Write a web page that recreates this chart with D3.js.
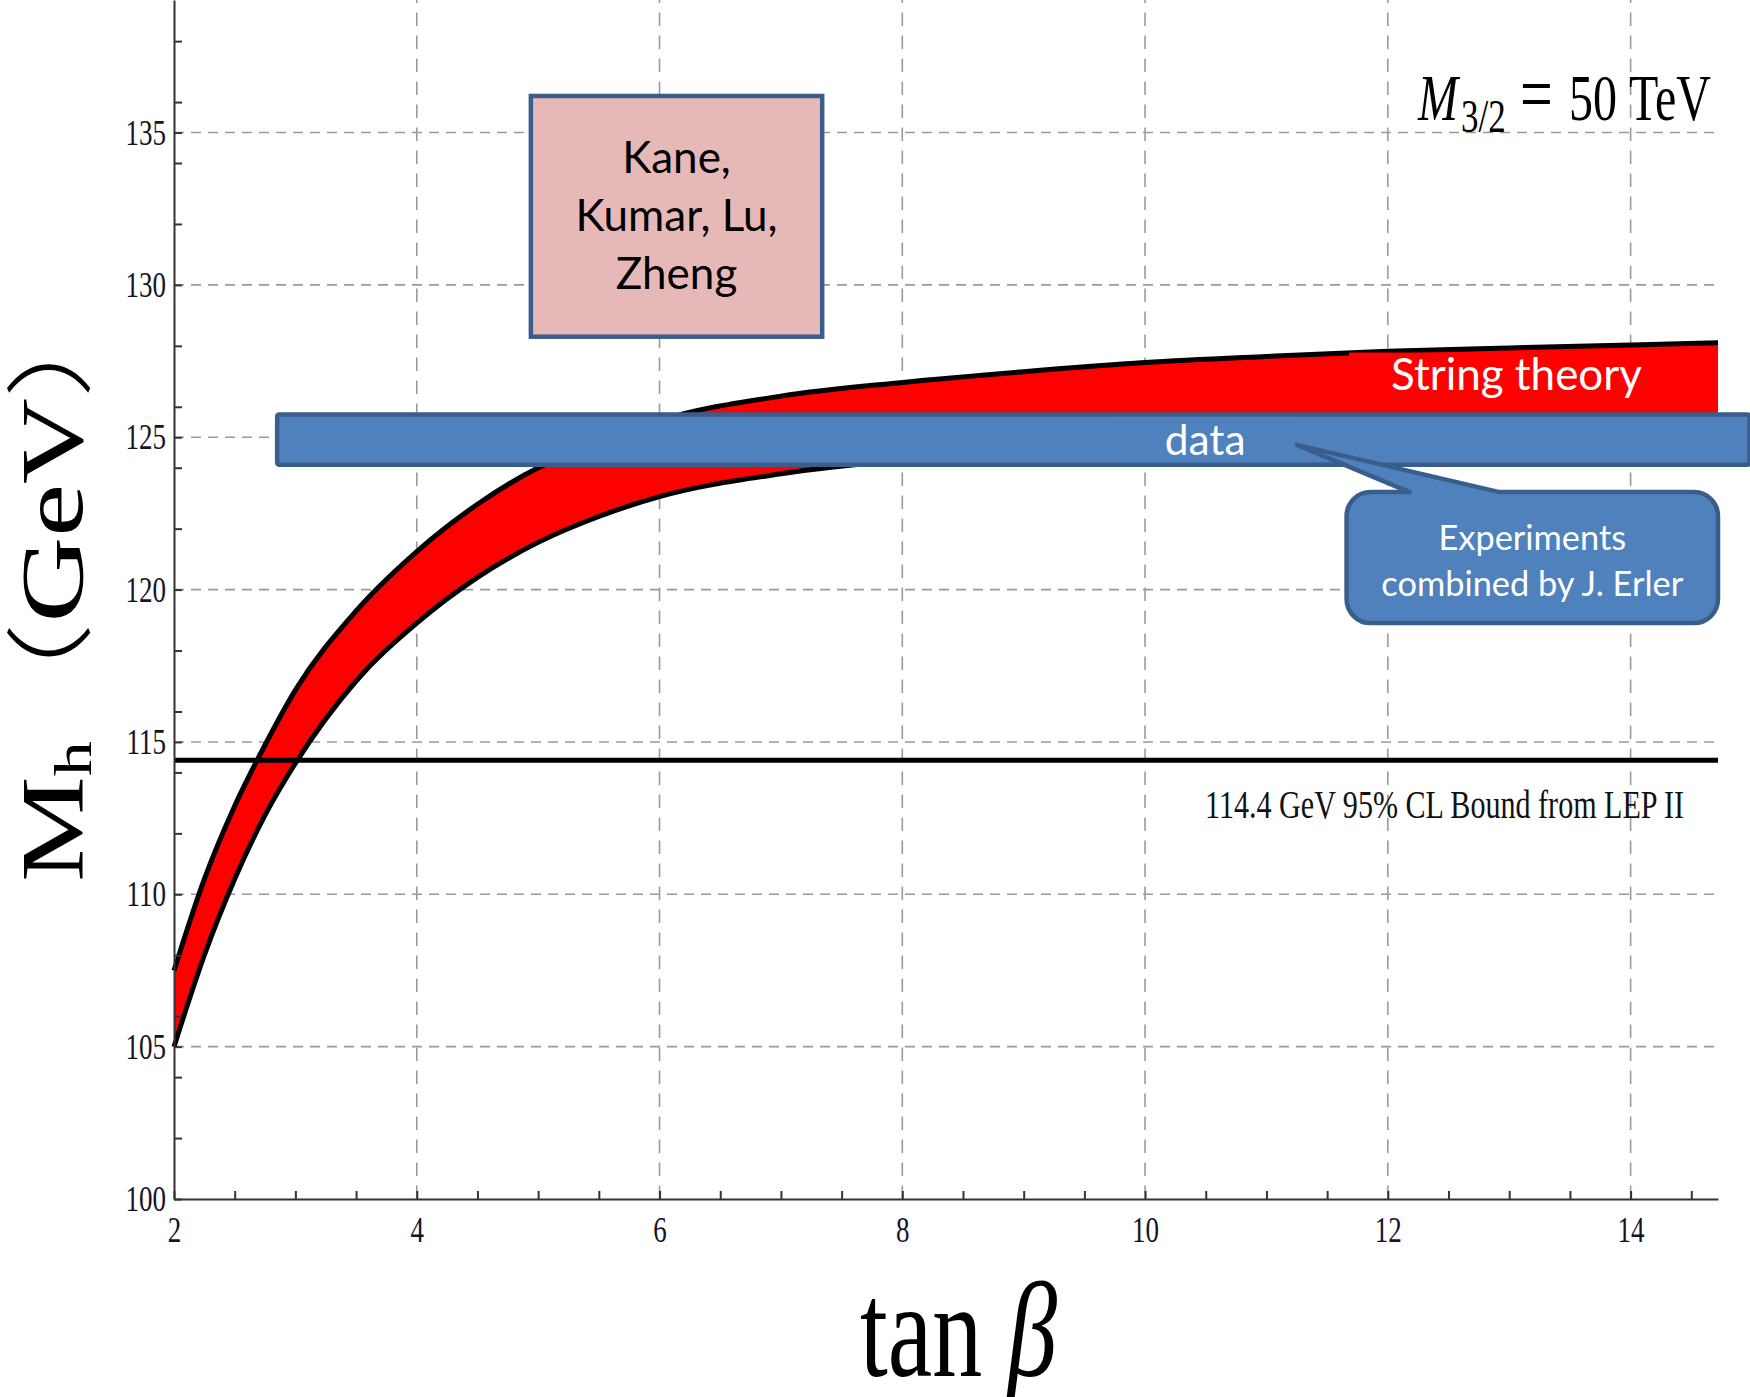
<!DOCTYPE html>
<html>
<head>
<meta charset="utf-8">
<script src="https://cdn.jsdelivr.net/npm/d3@7/dist/d3.min.js"></script>
<style>
  body { margin: 0; background: #fff; }
</style>
</head>
<body>
<div class="canvas"></div>
<script>
// tan(beta) samples and the two edges of the predicted Higgs mass band (GeV)
const tanBeta = [2, 2.25, 2.5, 2.75, 3, 3.5, 4, 4.5, 5, 5.5, 6, 7, 8, 9, 10, 11, 12, 13, 14, 14.72];
const mhUpper = [107.5, 110.5, 112.9, 114.9, 116.7, 119.3, 121.25, 122.8, 124.0, 124.8, 125.55, 126.35, 126.8, 127.15, 127.45, 127.65, 127.82, 127.93, 128.03, 128.1];
const mhLower = [105.0, 108.0, 110.5, 112.6, 114.3, 117.0, 118.9, 120.4, 121.55, 122.4, 123.05, 123.8, 124.25, 124.55, 124.75, 124.9, 125.0, 125.08, 125.15, 125.2];

// ticks
const xMajorTicks = [2, 4, 6, 8, 10, 12, 14];
const xMinorTicks = [2.5, 3, 3.5, 4.5, 5, 5.5, 6.5, 7, 7.5, 8.5, 9, 9.5, 10.5, 11, 11.5, 12.5, 13, 13.5, 14.5];
const yMajorTicks = [100, 105, 110, 115, 120, 125, 130, 135];
const yMinorTicks = [102, 104, 106, 108, 112, 114, 116, 118, 122, 124, 126, 128, 132, 134, 136, 138];
const xGrid = [4, 6, 8, 10, 12, 14];
const yGrid = [105, 110, 115, 120, 125, 130, 135];

// LEP bound and the measured mass band
const lepBound = 114.4;
const dataBand = [124.1, 125.75];

const w = 1750;
const h = 1397;
const serif = "'Liberation Serif', 'Times New Roman', serif";
const sans = "Lato, 'Open Sans', sans-serif";
const stretch = 1.35; // the original figure is stretched vertically
const blueFill = "#4f81bd";
const blueEdge = "#3a5e8c";

const svg = d3
  .select(".canvas")
  .append("svg")
  .attr("width", w)
  .attr("height", h)
  .style("display", "block");

svg.append("rect").attr("width", w).attr("height", h).attr("fill", "#fff");

// scales
const x = d3.scaleLinear().domain([2, 14.72]).range([174, 1718]);
const y = d3.scaleLinear().domain([100, 139.35]).range([1199, 0]);

// grid lines
const grid = svg.append("g");
grid
  .selectAll("line.h")
  .data(yGrid)
  .join("line")
  .attr("class", "h")
  .attr("x1", x(2))
  .attr("x2", x(14.72))
  .attr("y1", d => y(d))
  .attr("y2", d => y(d))
  .attr("stroke", "#9a9a9a")
  .attr("stroke-width", 1.6)
  .attr("stroke-dasharray", "10,7");
grid
  .selectAll("line.v")
  .data(xGrid)
  .join("line")
  .attr("class", "v")
  .attr("x1", d => x(d))
  .attr("x2", d => x(d))
  .attr("y1", y(100))
  .attr("y2", y(139.35))
  .attr("stroke", "#9a9a9a")
  .attr("stroke-width", 1.6)
  .attr("stroke-dasharray", "13.5,9.5");

// the band
const area = d3
  .area()
  .x((d, i) => x(tanBeta[i]))
  .y0((d, i) => y(mhLower[i]))
  .y1((d, i) => y(mhUpper[i]))
  .curve(d3.curveMonotoneX);
const edge = vals =>
  d3
    .line()
    .x((d, i) => x(tanBeta[i]))
    .y((d, i) => y(vals[i]))
    .curve(d3.curveMonotoneX)(tanBeta);

svg.append("path").attr("d", area(tanBeta)).attr("fill", "#ff0000");
[mhUpper, mhLower].forEach(vals => {
  svg
    .append("path")
    .attr("d", edge(vals))
    .attr("fill", "none")
    .attr("stroke", "#000")
    .attr("stroke-width", 5);
});

// LEP bound
svg
  .append("line")
  .attr("x1", x(2))
  .attr("x2", x(14.72))
  .attr("y1", y(lepBound))
  .attr("y2", y(lepBound))
  .attr("stroke", "#000")
  .attr("stroke-width", 5);

// axes
const yAxis = d3
  .axisLeft(y)
  .tickValues(yMajorTicks.concat(yMinorTicks))
  .tickSize(-8)
  .tickSizeOuter(0)
  .tickPadding(8)
  .tickFormat(d => (yMajorTicks.includes(d) ? d : ""));
const xAxis = d3
  .axisBottom(x)
  .tickValues(xMajorTicks.concat(xMinorTicks))
  .tickSize(-8)
  .tickSizeOuter(0)
  .tickFormat(d => (xMajorTicks.includes(d) ? d : ""));

const yAxisGroup = svg.append("g").attr("transform", `translate(${x(2)},0)`).call(yAxis);
const xAxisGroup = svg.append("g").attr("transform", `translate(0,${y(100)})`).call(xAxis);

[yAxisGroup, xAxisGroup].forEach(g => {
  g.select(".domain").attr("stroke", "#333").attr("stroke-width", 2);
  g.selectAll(".tick line").attr("stroke", "#333").attr("stroke-width", 2);
  g.selectAll(".tick text")
    .attr("font-family", serif)
    .attr("font-size", 27)
    .attr("fill", "#141428");
});
yAxisGroup.selectAll(".tick text").attr("transform", `scale(1,${stretch})`);
xAxisGroup
  .selectAll(".tick text")
  .attr("y", 0)
  .attr("dy", 0)
  .attr("transform", `translate(0,43) scale(1,${stretch})`);

// axis titles
svg
  .append("text")
  .attr("transform", `translate(860,1376) scale(1,${stretch})`)
  .attr("font-family", serif)
  .attr("font-size", 100)
  .attr("fill", "#000")
  .call(t => {
    t.append("tspan").text("tan ");
    t.append("tspan").attr("font-style", "italic").text("β");
  });

svg
  .append("text")
  .attr("transform", `translate(82,882) scale(1,${stretch}) rotate(-90)`)
  .attr("font-family", serif)
  .attr("font-size", 88)
  .attr("fill", "#000")
  .call(t => {
    t.append("tspan").text("M");
    t.append("tspan").attr("font-size", 52).attr("dy", 9).text("h");
    t.append("tspan")
      .attr("dy", -9)
      .attr("font-family", "'Noto Sans CJK JP', serif")
      .attr("font-weight", 300)
      .text("（");
    t.append("tspan").text("GeV");
    t.append("tspan")
      .attr("font-family", "'Noto Sans CJK JP', serif")
      .attr("font-weight", 300)
      .text("）");
  });

// M3/2 label, pieces placed along the line as in the original
svg
  .append("text")
  .attr("transform", `translate(1418,120) scale(1,${stretch})`)
  .attr("font-family", serif)
  .attr("font-size", 48)
  .attr("fill", "#000")
  .call(t => {
    t.append("tspan").attr("x", 0).attr("font-style", "italic").text("M");
    t.append("tspan").attr("x", 43).attr("font-size", 35).attr("dy", 9).text("3/2");
    t.append("tspan").attr("x", 102).attr("dy", -9).attr("font-size", 58).text("=");
    t.append("tspan").attr("x", 151).text("50");
    t.append("tspan").attr("x", 211).text("TeV");
  });

function fitText(sel, targetW) {
  const len = sel.node().getComputedTextLength();
  const fs = parseFloat(sel.attr("font-size"));
  sel.attr("font-size", (fs * targetW) / len);
  return sel;
}

// LEP label
fitText(
  svg
    .append("text")
    .attr("transform", `translate(1205,818) scale(1,${stretch})`)
    .attr("font-family", serif)
    .attr("font-size", 30)
    .attr("fill", "#111")
    .text("114.4 GeV 95% CL Bound from LEP II"),
  479
);

// author box
const kane = { t: [4.94, 7.34], v: [128.3, 136.2] };
svg
  .append("rect")
  .attr("x", x(kane.t[0]))
  .attr("y", y(kane.v[1]))
  .attr("width", x(kane.t[1]) - x(kane.t[0]))
  .attr("height", y(kane.v[0]) - y(kane.v[1]))
  .attr("fill", "#e6b9b8")
  .attr("stroke", blueEdge)
  .attr("stroke-width", 4.5);
const kaneLines = ["Kane,", "Kumar, Lu,", "Zheng"];
const kaneText = svg
  .append("g")
  .selectAll("text")
  .data(kaneLines)
  .join("text")
  .attr("x", (x(kane.t[0]) + x(kane.t[1])) / 2)
  .attr("y", (d, i) => y(kane.v[1]) + 77 + i * 58)
  .attr("text-anchor", "middle")
  .attr("font-family", sans)
  .attr("font-size", 44)
  .attr("fill", "#000")
  .text(d => d);
fitText(d3.select(kaneText.nodes()[1]), 202);
kaneText.attr("font-size", d3.select(kaneText.nodes()[1]).attr("font-size"));

// "String theory" label on the band
const stringBox = { t: [11.68, 14.72], v: [dataBand[1], 127.78] };
svg
  .append("rect")
  .attr("x", x(stringBox.t[0]))
  .attr("y", y(stringBox.v[1]))
  .attr("width", x(stringBox.t[1]) - x(stringBox.t[0]))
  .attr("height", y(stringBox.v[0]) - y(stringBox.v[1]))
  .attr("fill", "#ff0000");
fitText(
  svg
    .append("text")
    .attr("x", 1516.5)
    .attr("y", 390)
    .attr("text-anchor", "middle")
    .attr("font-family", sans)
    .attr("font-size", 44)
    .attr("fill", "#fff")
    .text("String theory"),
  251
);

// data band
const barT = [2.85, 14.98];
svg
  .append("rect")
  .attr("x", x(barT[0]))
  .attr("y", y(dataBand[1]))
  .attr("width", x(barT[1]) - x(barT[0]))
  .attr("height", y(dataBand[0]) - y(dataBand[1]))
  .attr("rx", 2)
  .attr("fill", blueFill)
  .attr("stroke", blueEdge)
  .attr("stroke-width", 4.5);
const dataLabelT = [9.71, 11.28];
svg
  .append("rect")
  .attr("x", x(dataLabelT[0]))
  .attr("y", y(dataBand[1]) + 2.5)
  .attr("width", x(dataLabelT[1]) - x(dataLabelT[0]))
  .attr("height", y(dataBand[0]) - y(dataBand[1]) - 5)
  .attr("fill", blueFill);
fitText(
  svg
    .append("text")
    .attr("x", (x(dataLabelT[0]) + x(dataLabelT[1])) / 2)
    .attr("y", 455)
    .attr("text-anchor", "middle")
    .attr("font-family", sans)
    .attr("font-size", 42)
    .attr("fill", "#fff")
    .text("data"),
  81
);

// callout
const callout = { t: [11.66, 14.72], v: [118.9, 123.2], tip: [11.25, 124.75], base: [12.18, 12.92] };
const cx0 = x(callout.t[0]);
const cx1 = x(callout.t[1]);
const cy0 = y(callout.v[1]);
const cy1 = y(callout.v[0]);
const r = 24;
const calloutPath = [
  `M${cx0 + r},${cy0}`,
  `L${x(callout.base[0])},${cy0}`,
  `L${x(callout.tip[0])},${y(callout.tip[1])}`,
  `L${x(callout.base[1])},${cy0}`,
  `L${cx1 - r},${cy0}`,
  `A${r},${r} 0 0 1 ${cx1},${cy0 + r}`,
  `L${cx1},${cy1 - r}`,
  `A${r},${r} 0 0 1 ${cx1 - r},${cy1}`,
  `L${cx0 + r},${cy1}`,
  `A${r},${r} 0 0 1 ${cx0},${cy1 - r}`,
  `L${cx0},${cy0 + r}`,
  `A${r},${r} 0 0 1 ${cx0 + r},${cy0}`,
  "Z"
].join(" ");
svg
  .append("path")
  .attr("d", calloutPath)
  .attr("fill", blueFill)
  .attr("stroke", blueEdge)
  .attr("stroke-width", 4.5)
  .attr("stroke-linejoin", "round");
const calloutText = svg
  .append("g")
  .selectAll("text")
  .data(["Experiments", "combined by J. Erler"])
  .join("text")
  .attr("x", (cx0 + cx1) / 2)
  .attr("y", (d, i) => 550 + i * 46)
  .attr("text-anchor", "middle")
  .attr("font-family", sans)
  .attr("font-size", 34)
  .attr("fill", "#fff")
  .text(d => d);
fitText(d3.select(calloutText.nodes()[1]), 302);
calloutText.attr("font-size", d3.select(calloutText.nodes()[1]).attr("font-size"));
</script>
</body>
</html>
